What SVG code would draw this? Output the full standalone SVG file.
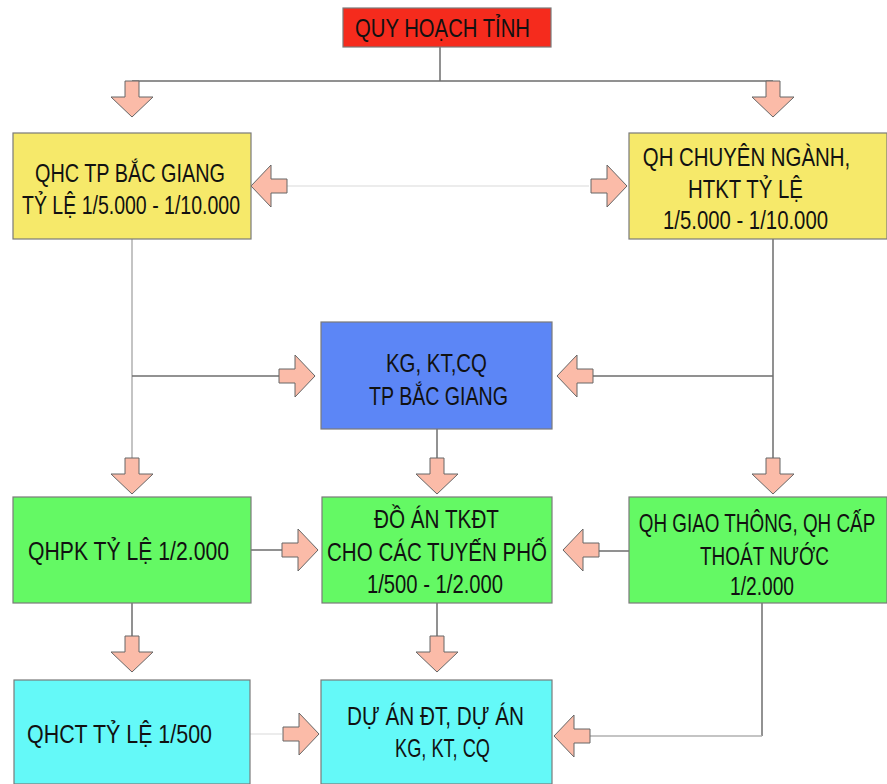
<svg xmlns="http://www.w3.org/2000/svg" xmlns:xlink="http://www.w3.org/1999/xlink" width="887" height="784" viewBox="0 0 887 784">
<style>
  .box { stroke: #7a7a7a; stroke-width: 1.2; }
  .red { fill: #F52B1D; }
  .yellow { fill: #F6E96A; }
  .blue { fill: #5C86F6; }
  .green { fill: #64F964; }
  .cyan { fill: #64F9F8; }
  text { font-family: "Liberation Sans", Arial, sans-serif; font-size: 25.5px; fill: #111; text-anchor: middle; }
  .ln { fill: none; stroke: #6e6e6e; stroke-width: 1.5; }
  .lnl { fill: none; stroke: #b0b0b0; stroke-width: 1.5; }
  .lnf { fill: none; stroke: #e6e6e6; stroke-width: 1.5; }
  .arr { fill: #FBBBA8; stroke: #666; stroke-width: 1; }
</style>
<defs>
  <path id="arrow" class="arr" d="M0,0 L-20,-21 L-20,-7 L-36,-7 L-36,7 L-20,7 L-20,21 Z"/>
</defs>
<rect width="887" height="784" fill="#ffffff"/>

<g id="connectors">
  <path class="ln" d="M440,47 V81 M132,81 H773"/>
  <path class="lnf" d="M287,186 H589"/>
  <path class="lnl" d="M132,239 V458"/>
  <path class="ln" d="M132,376 H279"/>
  <path class="ln" d="M773,239 V458 M773,376 H592"/>
  <path class="ln" d="M437,429 V458"/>
  <path class="ln" d="M251,550 H282 M629,551 H598"/>
  <path class="ln" d="M132,603 V636 M437,603 V636"/>
  <path class="ln" d="M762,603 V736"/>
  <path class="lnl" d="M762,736 H590"/>
  <path class="lnf" d="M250,734 H282"/>
  <use xlink:href="#arrow" transform="translate(132,117) rotate(90)"/>
  <use xlink:href="#arrow" transform="translate(773,117) rotate(90)"/>
  <use xlink:href="#arrow" transform="translate(251,186) rotate(180)"/>
  <use xlink:href="#arrow" transform="translate(627,186)"/>
  <use xlink:href="#arrow" transform="translate(315,376)"/>
  <use xlink:href="#arrow" transform="translate(557,376) rotate(180)"/>
  <use xlink:href="#arrow" transform="translate(132,494) rotate(90)"/>
  <use xlink:href="#arrow" transform="translate(437,494) rotate(90)"/>
  <use xlink:href="#arrow" transform="translate(773,494) rotate(90)"/>
  <use xlink:href="#arrow" transform="translate(318,550)"/>
  <use xlink:href="#arrow" transform="translate(563,550) rotate(180)"/>
  <use xlink:href="#arrow" transform="translate(132,672) rotate(90)"/>
  <use xlink:href="#arrow" transform="translate(437,672) rotate(90)"/>
  <use xlink:href="#arrow" transform="translate(319,734)"/>
  <use xlink:href="#arrow" transform="translate(554,736) rotate(180)"/>
</g>

<g id="quy-hoach-tinh">
  <rect class="box red" x="343" y="8" width="208" height="39"/>
  <text x="442.5" y="37" textLength="175" lengthAdjust="spacingAndGlyphs">QUY HOẠCH TỈNH</text>
</g>

<g id="qhc-tp-bac-giang">
  <rect class="box yellow" x="13" y="133" width="238" height="106"/>
  <text x="130" y="182" textLength="190" lengthAdjust="spacingAndGlyphs">QHC TP BẮC GIANG</text>
  <text x="131" y="214" textLength="218" lengthAdjust="spacingAndGlyphs">TỶ LỆ 1/5.000 - 1/10.000</text>
</g>

<g id="qh-chuyen-nganh">
  <rect class="box yellow" x="629" y="133" width="258" height="106"/>
  <text transform="translate(746.5,166) scale(0.8,1)" x="0" y="0">QH CHUYÊN NGÀNH,</text>
  <text x="745.5" y="198" textLength="115" lengthAdjust="spacingAndGlyphs">HTKT TỶ LỆ</text>
  <text x="745.5" y="229" textLength="165" lengthAdjust="spacingAndGlyphs">1/5.000 - 1/10.000</text>
</g>

<g id="kg-kt-cq">
  <rect class="box blue" x="321" y="322" width="231" height="107"/>
  <text x="436.5" y="372" textLength="101" lengthAdjust="spacingAndGlyphs">KG, KT,CQ</text>
  <text x="438.5" y="405" textLength="139" lengthAdjust="spacingAndGlyphs">TP BẮC GIANG</text>
</g>

<g id="qhpk">
  <rect class="box green" x="13" y="497" width="238" height="106"/>
  <text x="128.5" y="560" textLength="201" lengthAdjust="spacingAndGlyphs">QHPK TỶ LỆ  1/2.000</text>
</g>

<g id="do-an-tkdt">
  <rect class="box green" x="322" y="497" width="230" height="106"/>
  <text x="436.5" y="528" textLength="125" lengthAdjust="spacingAndGlyphs">ĐỒ ÁN TKĐT</text>
  <text x="437" y="561" textLength="220" lengthAdjust="spacingAndGlyphs">CHO CÁC TUYẾN PHỐ</text>
  <text x="435" y="593" textLength="136" lengthAdjust="spacingAndGlyphs">1/500 - 1/2.000</text>
</g>

<g id="qh-giao-thong">
  <rect class="box green" x="629" y="497" width="258" height="106"/>
  <text transform="translate(757,532) scale(0.74,1)" x="0" y="0">QH GIAO THÔNG, QH CẤP</text>
  <text x="764.5" y="565" textLength="129" lengthAdjust="spacingAndGlyphs">THOÁT NƯỚC</text>
  <text x="762" y="595" textLength="64" lengthAdjust="spacingAndGlyphs">1/2.000</text>
</g>

<g id="qhct">
  <rect class="box cyan" x="14" y="680" width="236" height="104"/>
  <text x="119.5" y="743" textLength="185" lengthAdjust="spacingAndGlyphs">QHCT TỶ LỆ  1/500</text>
</g>

<g id="du-an">
  <rect class="box cyan" x="321" y="680" width="231" height="104"/>
  <text x="435.5" y="725" textLength="177" lengthAdjust="spacingAndGlyphs">DỰ ÁN ĐT, DỰ ÁN</text>
  <text x="442.5" y="757" textLength="95" lengthAdjust="spacingAndGlyphs">KG, KT, CQ</text>
</g>
</svg>
